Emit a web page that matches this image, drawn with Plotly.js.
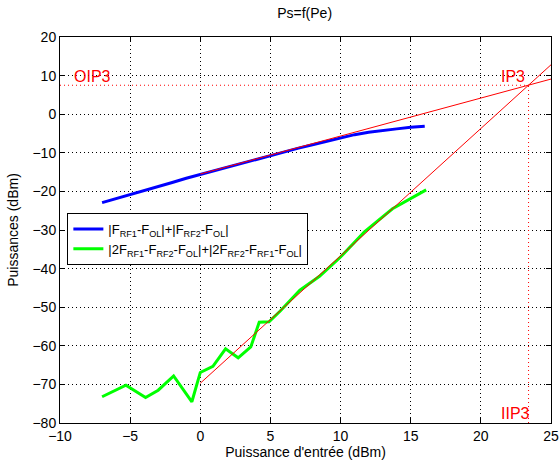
<!DOCTYPE html>
<html>
<head>
<meta charset="utf-8">
<script src="https://cdn.plot.ly/plotly-3.0.1.min.js"></script>
<style>html,body{margin:0;padding:0;background:#fff;}#chart{width:559px;height:462px;}</style>
</head>
<body>
<div id="chart"></div>
<script>
// Fundamental output (blue)
const fundX = [-7, -6, -5, -4, -3, -2, -1, 0, 1, 2, 3, 4, 5, 6, 7, 8, 9, 10, 11, 12, 13, 14, 15, 16];
const fundY = [-22.9, -21.9, -20.8, -19.8, -18.7, -17.7, -16.6, -15.6, -14.6, -13.6, -12.6, -11.6, -10.7, -9.7, -8.8, -7.9, -7.0, -6.0, -5.3, -4.7, -4.2, -3.8, -3.4, -3.1];
// Third-order intermod output (green)
const imX = [-7, -5.3, -3.9, -3, -1.9, -0.6, 0, 0.9, 1.8, 2.7, 3.6, 4.2, 4.9, 5.7, 7.1, 8.5, 10, 11.7, 13.7, 16.1];
const imY = [-73.2, -70.2, -73.4, -71.5, -67.8, -74.5, -66.9, -65.3, -60.8, -63.1, -60.3, -53.9, -53.8, -51.0, -45.6, -42.0, -37.0, -30.5, -24.5, -19.6];
// Linear fits (red)
const fitX = [0, 25];
const fitFundY = [-15.5, 9.1];
const fitImY = [-69.7, 12.8];
// Intercept point
const ip3X = 23.4;
const ip3Y = 7.5;
const xRange = [-10, 25];
const yRange = [-80, 20];
const xTicks = [-10, -5, 0, 5, 10, 15, 20, 25];
const yTicks = [-80, -70, -60, -50, -40, -30, -20, -10, 0, 10, 20];

const font = "Liberation Sans, Arial, sans-serif";
const traces = [
  {x: fundX, y: fundY, mode: 'lines', line: {color: '#0000ff', width: 3},
   name: '|F<sub>RF1</sub>-F<sub>OL</sub>|+|F<sub>RF2</sub>-F<sub>OL</sub>|'},
  {x: imX, y: imY, mode: 'lines', line: {color: '#00ff00', width: 3},
   name: '|2F<sub>RF1</sub>-F<sub>RF2</sub>-F<sub>OL</sub>|+|2F<sub>RF2</sub>-F<sub>RF1</sub>-F<sub>OL</sub>|'},
  {x: fitX, y: fitFundY, mode: 'lines', line: {color: '#ff0000', width: 1}, showlegend: false},
  {x: fitX, y: fitImY, mode: 'lines', line: {color: '#ff0000', width: 1}, showlegend: false},
  {x: [xRange[0], ip3X], y: [ip3Y, ip3Y], mode: 'lines', line: {color: '#ff0000', width: 1, dash: '1px,3px'}, showlegend: false},
  {x: [ip3X, ip3X], y: [yRange[0], ip3Y], mode: 'lines', line: {color: '#ff0000', width: 1, dash: '1px,3px'}, showlegend: false}
];
const axisCommon = {
  showline: true, linecolor: '#000', linewidth: 1, mirror: 'ticks',
  ticks: 'inside', ticklen: 5, tickcolor: '#000',
  showgrid: true, gridcolor: '#000', gridwidth: 1, griddash: '1px,3px',
  zeroline: false, tickfont: {family: font, size: 14, color: '#000'}
};
const layout = {
  width: 559, height: 462,
  margin: {l: 60, r: 8, t: 37, b: 39},
  paper_bgcolor: '#fff', plot_bgcolor: '#fff',
  title: {text: 'Ps=f(Pe)', font: {family: font, size: 14, color: '#000'}, x: 0.545, xanchor: 'center', y: 0.972, yanchor: 'middle'},
  xaxis: Object.assign({}, axisCommon, {range: xRange, tickvals: xTicks, autorange: false,
    title: {text: "Puissance d'entrée (dBm)", font: {family: font, size: 14, color: '#000'}, standoff: 2}}),
  yaxis: Object.assign({}, axisCommon, {range: yRange, tickvals: yTicks, autorange: false,
    title: {text: 'Puissances (dBm)', font: {family: font, size: 14, color: '#000'}, standoff: 10}}),
  showlegend: true,
  legend: {x: 0.015, y: 0.544, xanchor: 'left', yanchor: 'top', bgcolor: '#fff',
    bordercolor: '#000', borderwidth: 1, font: {family: font, size: 13, color: '#000'},
    tracegroupgap: 0},
  annotations: [
    {x: -7.7, y: 9.8, text: 'OIP3', showarrow: false, font: {family: font, size: 16, color: '#ff0000'}},
    {x: 22.3, y: 9.8, text: 'IP3', showarrow: false, font: {family: font, size: 16, color: '#ff0000'}},
    {x: 22.45, y: -77.6, text: 'IIP3', showarrow: false, font: {family: font, size: 16, color: '#ff0000'}}
  ]
};
Plotly.newPlot('chart', traces, layout, {displayModeBar: false, staticPlot: true});
</script>
</body>
</html>
